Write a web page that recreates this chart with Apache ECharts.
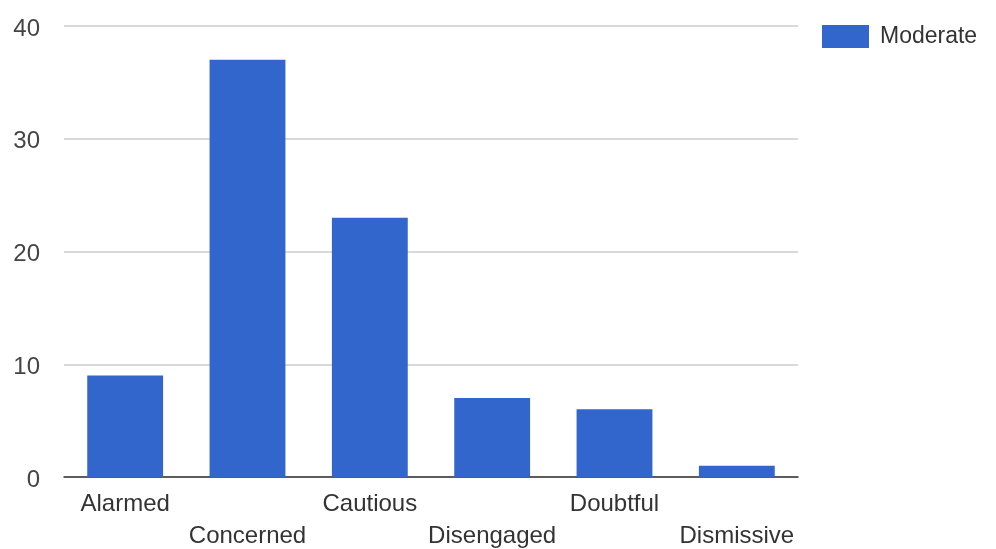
<!DOCTYPE html>
<html>
<head>
<meta charset="utf-8">
<style>
  html, body { margin: 0; padding: 0; background: #fff; }
  #chart { width: 996px; height: 549px; }
</style>
<script src="https://cdn.jsdelivr.net/npm/echarts@6/dist/echarts.min.js"></script>
</head>
<body>
<div id="chart"></div>
<script>
// Audience segments and the count of "Moderate" respondents in each
const categories = ['Alarmed', 'Concerned', 'Cautious', 'Disengaged', 'Doubtful', 'Dismissive'];
const moderate = [9, 37, 23, 7, 6, 1];
const yTicks = [0, 10, 20, 30, 40];

const FONT = '"Liberation Sans", Arial, sans-serif';
const chart = echarts.init(document.getElementById('chart'), null, { renderer: 'canvas' });

chart.setOption({
  animation: false,
  backgroundColor: '#ffffff',
  textStyle: { fontFamily: FONT },
  grid: { left: 64, right: 198, top: 26, bottom: 72, containLabel: false, outerBoundsMode: 'none' },
  legend: {
    left: 822,
    top: 25,
    padding: 0,
    itemWidth: 47,
    itemHeight: 23,
    icon: 'rect',
    data: ['Moderate'],
    textStyle: { fontFamily: FONT, fontSize: 23, color: '#333', padding: [0, 0, 0, 6] }
  },
  xAxis: {
    type: 'category',
    data: categories,
    axisTick: { show: false },
    axisLine: { lineStyle: { color: '#333', width: 1.5 } },
    axisLabel: {
      interval: 0,
      margin: 11,
      fontFamily: FONT,
      fontSize: 24,
      color: '#333',
      lineHeight: 32,
      // stagger the labels over two rows
      formatter: (v, i) => (i % 2 === 1 ? '\n' + v : v)
    }
  },
  yAxis: {
    type: 'value',
    min: yTicks[0],
    max: yTicks[yTicks.length - 1],
    interval: 10,
    axisLine: { show: false },
    axisTick: { show: false },
    axisLabel: {
      margin: 24, fontFamily: FONT, fontSize: 24, color: '#444',
      // sit the numbers slightly below their grid line
      verticalAlign: 'top', lineHeight: 6
    },
    splitLine: { lineStyle: { color: '#cccccc', width: 1.5 } }
  },
  series: [{
    name: 'Moderate',
    type: 'bar',
    data: moderate,
    barCategoryGap: '38%',
    itemStyle: { color: '#3366cc' }
  }]
});
</script>
</body>
</html>
